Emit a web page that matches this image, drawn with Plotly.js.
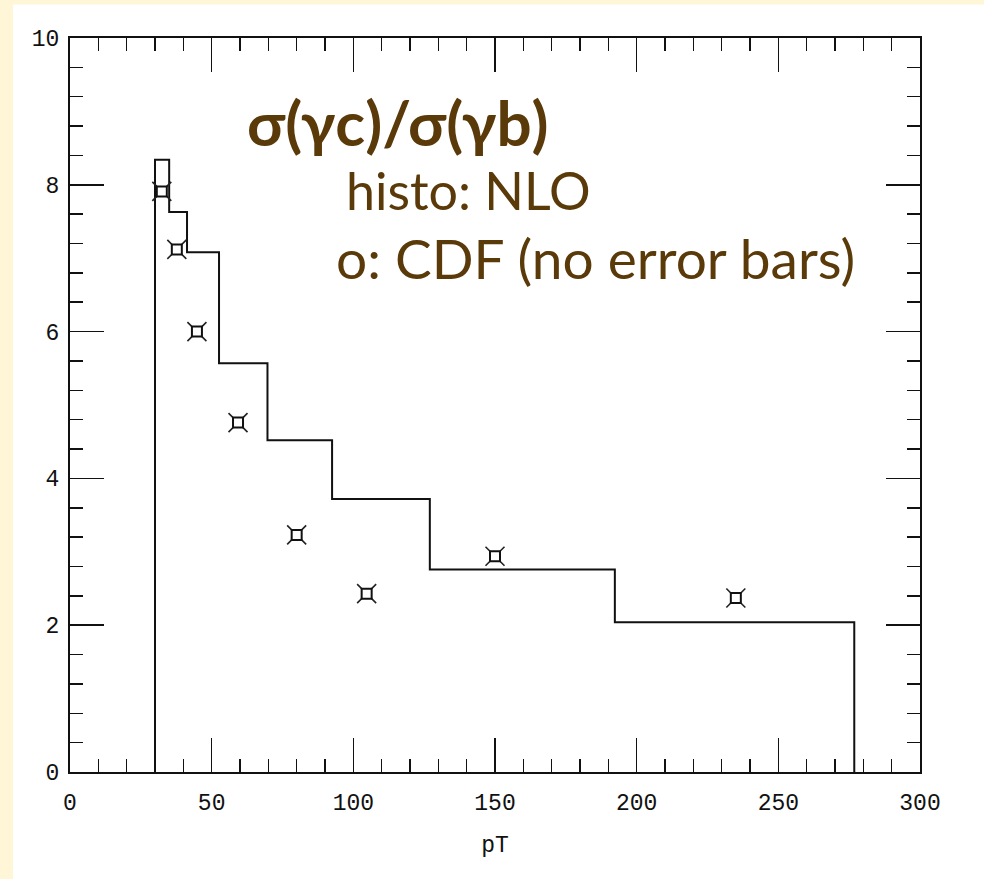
<!DOCTYPE html>
<html>
<head>
<meta charset="utf-8">
<script src="https://cdn.plot.ly/plotly-3.0.1.min.js"></script>
<style>html,body{margin:0;padding:0;background:#fef6d6;}#chart{width:984px;height:879px;}</style>
</head>
<body>
<div id="chart"></div>
<script>
// NLO histogram: bin edges and contents
const binEdges = [30, 35, 41.3, 52.6, 69.7, 92.5, 127, 192.3, 276.8];
const nloValues = [8.34, 7.63, 7.08, 5.57, 4.52, 3.72, 2.76, 2.04];
// CDF points
const cdfPt = [32.4, 37.7, 44.8, 59.3, 80.0, 104.7, 150.0, 235.0];
const cdfRatio = [7.91, 7.12, 6.00, 4.76, 3.23, 2.43, 2.94, 2.37];
// axis ticks
const xTicks = [0, 50, 100, 150, 200, 250, 300];
const yTicks = [0, 2, 4, 6, 8, 10];

// build histogram step outline (hv shape)
const histX = [binEdges[0]].concat(binEdges.slice(0, nloValues.length)).concat([binEdges[binEdges.length - 1]]);
const histY = [0].concat(nloValues).concat([0]);

const L = 70, R = 920, T = 37.5, B = 772.5;
const px2x = p => (p - L) / (R - L);
const px2y = p => (B - p) / (B - T);

const brown = '#5b3a0a';
const tickFont = {family: 'Liberation Mono, DejaVu Sans Mono, monospace', size: 23, color: '#111'};

const traces = [
  {x: histX, y: histY, type: 'scatter', mode: 'lines', line: {shape: 'hv', color: '#111', width: 2}, hoverinfo: 'skip'},
  {x: cdfPt, y: cdfRatio, type: 'scatter', mode: 'markers', marker: {symbol: 'x-thin-open', size: 19, color: '#222', line: {color: '#222', width: 1.6}}},
  {x: cdfPt, y: cdfRatio, type: 'scatter', mode: 'markers', marker: {symbol: 'square', size: 10, color: '#fff', line: {color: '#111', width: 2}}}
];

const axisCommon = {
  showgrid: false, zeroline: false, showline: true, linecolor: '#111', linewidth: 2,
  mirror: 'ticks', ticks: 'inside', ticklen: 34, tickwidth: 1.5, tickcolor: '#111',
  tickfont: tickFont, tickmode: 'array'
};

const layout = {
  width: 984, height: 879,
  margin: {l: L, r: 984 - R, t: T, b: 879 - B},
  paper_bgcolor: '#fef6d6', plot_bgcolor: '#ffffff',
  showlegend: false,
  xaxis: Object.assign({}, axisCommon, {
    range: [0, 300], tickvals: xTicks, ticktext: xTicks.map(String),
    ticklabelstandoff: 8,
    minor: {dtick: 10, tick0: 0, ticks: 'inside', ticklen: 13, tickwidth: 1.5, tickcolor: '#111'},
    title: {text: 'pT', font: tickFont, standoff: 20}
  }),
  yaxis: Object.assign({}, axisCommon, {
    range: [0, 10], tickvals: yTicks, ticktext: yTicks.map(String),
    ticklabelstandoff: 4,
    minor: {dtick: 0.4, tick0: 0, ticks: 'inside', ticklen: 13, tickwidth: 1.5, tickcolor: '#111'}
  }),
  shapes: [
    {type: 'rect', xref: 'paper', yref: 'paper', layer: 'below',
     x0: px2x(13), x1: px2x(990), y0: px2y(885), y1: px2y(4),
     fillcolor: '#ffffff', line: {width: 0}}
  ],
  annotations: [
    {xref: 'paper', yref: 'paper', x: px2x(245), y: px2y(122), xanchor: 'left', yanchor: 'middle', showarrow: false,
     text: '<b>σ(γc)/σ(γb)</b>', font: {family: 'Lato, Open Sans, sans-serif', size: 62, color: brown}},
    {xref: 'paper', yref: 'paper', x: px2x(344), y: px2y(190), xanchor: 'left', yanchor: 'middle', showarrow: false,
     text: 'histo: NLO', font: {family: 'Lato, Open Sans, sans-serif', size: 52, color: brown}},
    {xref: 'paper', yref: 'paper', x: px2x(334), y: px2y(258), xanchor: 'left', yanchor: 'middle', showarrow: false,
     text: 'o: CDF (no error bars)', font: {family: 'Lato, Open Sans, sans-serif', size: 55, color: brown}}
  ]
};

Plotly.newPlot('chart', traces, layout, {displayModeBar: false, staticPlot: true});
</script>
</body>
</html>
